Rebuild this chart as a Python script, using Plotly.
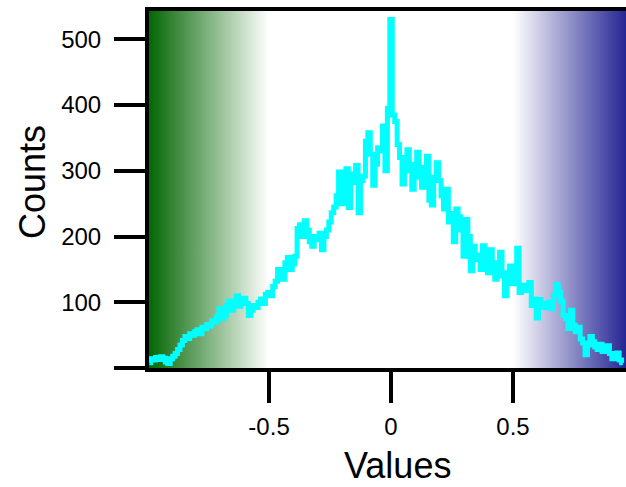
import plotly.graph_objects as go

# ---- data ----
BIN_START = -0.99
BIN_WIDTH = 0.01
counts = [
    8, 14, 12, 16, 13, 17, 15, 9, 7, 14,
    18, 22, 28, 35, 42, 48, 45, 52, 50, 55,
    58, 52, 62, 60, 66, 64, 72, 70, 78, 90,
    75, 80, 95, 102, 88, 96, 110, 94, 100, 106,
    98, 80, 88, 95, 92, 100, 105, 98, 112, 115,
    110, 124, 132, 150, 140, 135, 160, 168, 150, 158,
    170, 212, 218, 200, 224, 210, 192, 185, 200, 195,
    205, 180, 200, 210, 222, 236, 245, 262, 298, 250,
    290, 303, 244, 295, 282, 308, 236, 285, 292, 345,
    358, 325, 278, 310, 335, 330, 368, 300, 395, 530,
    385, 375, 340, 320, 280, 300, 332, 300, 272, 310,
    328, 290, 275, 305, 322, 255, 248, 290, 312, 285,
    262, 242, 272, 222, 235, 192, 242, 230, 210, 170,
    226, 200, 148, 185, 172, 165, 150, 186, 160, 145,
    180, 150, 135, 160, 176, 140, 110, 145, 155, 128,
    140, 182, 115, 122, 126, 118, 130, 95, 105, 76,
    104, 98, 92, 96, 100, 90, 110, 127, 115, 102,
    80, 75, 60, 88, 65, 55, 62, 44, 38, 20,
    35, 48, 40, 32, 28, 36, 25, 30, 34, 22,
    14, 20, 23, 12, 8,
]
values = [round(BIN_START + i * BIN_WIDTH, 3) for i in range(len(counts))]

x_ticks = [-0.5, 0, 0.5]
x_ticktext = ["-0.5", "0", "0.5"]
y_ticks = [0, 100, 200, 300, 400, 500]
y_ticktext = ["", "100", "200", "300", "400", "500"]

x_title = "Values"
y_title = "Counts"

# shaded zones (background gradients)
green_zone = (-1.0, -0.5)
blue_zone = (0.5, 1.0)

X_RANGE = [-0.992, 0.963]
Y_RANGE = [0, 543]

FONT = "Liberation Sans, Arial, sans-serif"

fig = go.Figure()

def zone(x0, x1, cs):
    top = Y_RANGE[1]
    return go.Scatter(
        x=[x0, x1, x1, x0, x0], y=[0, 0, top, top, 0],
        mode="lines", fill="toself", line=dict(width=0),
        fillgradient=dict(type="horizontal", colorscale=cs),
        hoverinfo="skip", showlegend=False,
    )

fig.add_trace(zone(green_zone[0], green_zone[1],
                   [[0, "rgb(0,100,0)"], [1, "rgb(255,255,255)"]]))
fig.add_trace(zone(blue_zone[0], blue_zone[1],
                   [[0, "rgb(255,255,255)"], [1, "rgb(20,20,140)"]]))

fig.add_trace(go.Scatter(
    x=values, y=counts, mode="lines",
    line=dict(color="#00FFFF", width=5, shape="hvh"),
    showlegend=False,
))

axis_common = dict(
    showgrid=False, zeroline=False, showline=True, linecolor="black",
    linewidth=4, ticks="outside", ticklen=31, tickwidth=4, tickcolor="black",
    tickfont=dict(family=FONT, size=24, color="black"),
)

fig.update_layout(
    width=626, height=487,
    margin=dict(l=149, r=0, t=11, b=119),
    paper_bgcolor="white", plot_bgcolor="white",
    font=dict(family=FONT, color="black"),
    xaxis=dict(range=X_RANGE, tickvals=x_ticks, ticktext=x_ticktext,
               mirror=True, ticklabelstandoff=3, **axis_common),
    yaxis=dict(range=Y_RANGE, tickvals=y_ticks, ticktext=y_ticktext,
               ticklabelstandoff=8, **axis_common),
    annotations=[
        dict(text=x_title, xref="paper", yref="paper", x=0.52, y=-0.272,
             xanchor="center", yanchor="middle", showarrow=False,
             font=dict(family=FONT, size=36, color="black")),
        dict(text=y_title, xref="paper", yref="paper", x=-0.244, y=0.52,
             xanchor="center", yanchor="middle", showarrow=False, textangle=-90,
             font=dict(family=FONT, size=36, color="black")),
    ],
)

fig.write_html("out.html")
